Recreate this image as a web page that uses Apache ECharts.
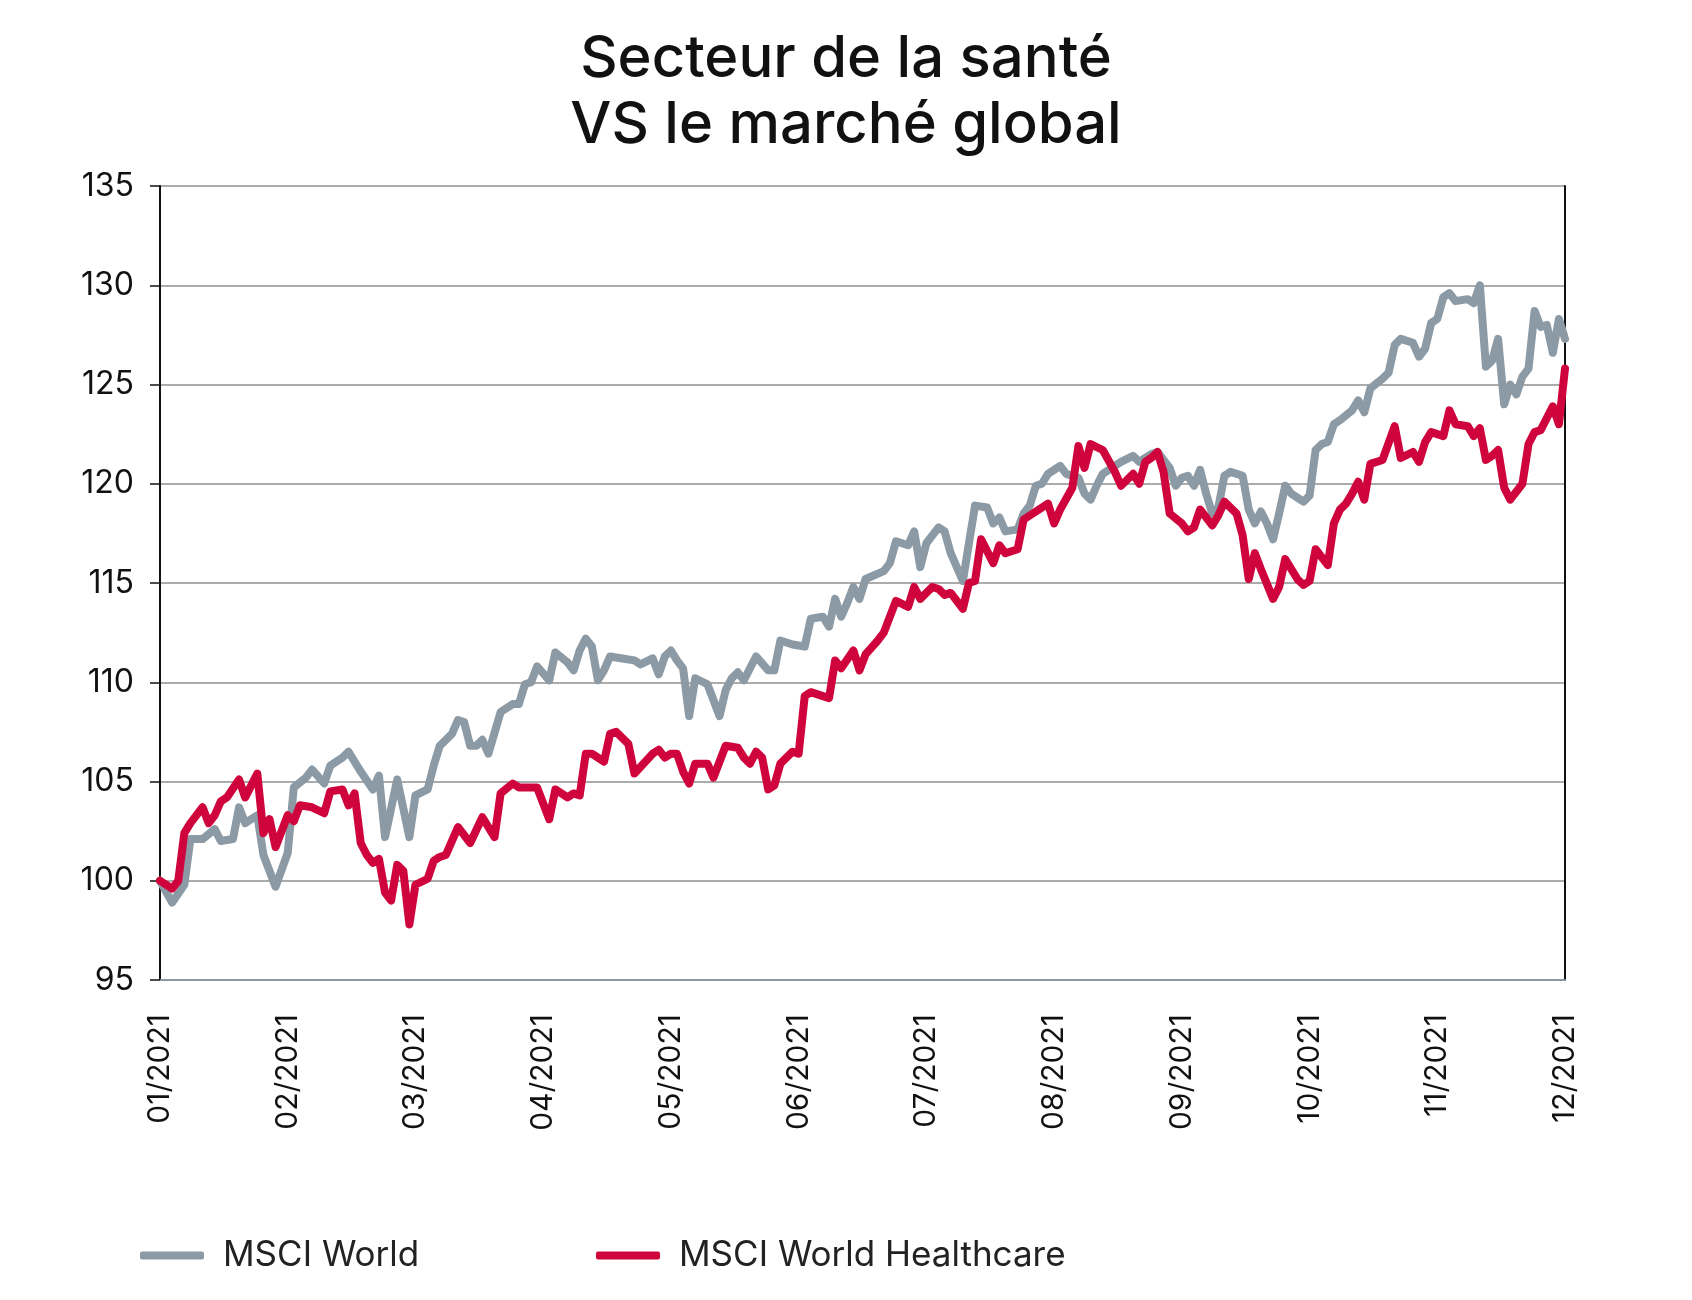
<!DOCTYPE html>
<html>
<head>
<meta charset="utf-8">
<script src="https://cdn.jsdelivr.net/npm/echarts@6/dist/echarts.min.js"></script>
<style>
  html, body { margin: 0; padding: 0; background: #fff; }
  #chart { width: 1692px; height: 1300px; }
</style>
</head>
<body>
<div id="chart"></div>
<script>
// Secteur de la santé VS le marché global (base 100, 2021)
// x = jour de bourse depuis début janvier (21 par mois)
var daysPerMonth = 21;
var months = ['01/2021', '02/2021', '03/2021', '04/2021', '05/2021', '06/2021',
              '07/2021', '08/2021', '09/2021', '10/2021', '11/2021', '12/2021'];
var yTicks = [95, 100, 105, 110, 115, 120, 125, 130, 135];

var msciWorld = [
  [0,100.0],[2,98.9],[4,99.8],[5,102.1],[7,102.1],[9,102.6],[10,102.0],[12,102.1],[13,103.7],[14,102.9],
  [16,103.3],[17,101.3],[19,99.7],[21,101.4],[22,104.7],[24,105.2],[25,105.6],[27,104.9],[28,105.8],[30,106.2],
  [31,106.5],[33,105.5],[35,104.6],[36,105.3],[37,102.2],[39,105.1],[41,102.2],[42,104.3],[44,104.6],[45,105.8],
  [46,106.8],[48,107.4],[49,108.1],[50,108.0],[51,106.8],[52,106.8],[53,107.1],[54,106.4],[56,108.5],[58,108.9],
  [59,108.9],[60,109.9],[61,110.0],[62,110.8],[64,110.1],[65,111.5],[67,111.0],[68,110.6],[69,111.6],[70,112.2],
  [71,111.8],[72,110.1],[73,110.6],[74,111.3],[76,111.2],[78,111.1],[79,110.9],[81,111.2],[82,110.4],[83,111.3],
  [84,111.6],[85,111.1],[86,110.7],[87,108.3],[88,110.2],[90,109.9],[92,108.3],[93,109.6],[94,110.2],[95,110.5],
  [96,110.1],[98,111.3],[100,110.6],[101,110.6],[102,112.1],[104,111.9],[106,111.8],[107,113.2],[109,113.3],[110,112.8],
  [111,114.2],[112,113.3],[113,114.0],[114,114.8],[115,114.2],[116,115.2],[119,115.6],[120,116.0],[121,117.1],[123,116.9],
  [124,117.6],[125,115.8],[126,117.0],[128,117.8],[129,117.6],[130,116.5],[132,115.1],[133,117.0],[134,118.9],[136,118.8],
  [137,118.0],[138,118.3],[139,117.6],[141,117.7],[142,118.5],[143,118.9],[144,119.9],[145,120.0],[146,120.5],[148,120.9],
  [149,120.5],[151,120.3],[152,119.5],[153,119.2],[154,119.9],[155,120.5],[157,120.9],[158,121.1],[160,121.4],[161,121.1],
  [162,121.3],[163,121.5],[164,121.6],[166,120.8],[167,119.9],[168,120.3],[169,120.4],[170,119.9],[171,120.7],[172,119.5],
  [173,118.5],[174,118.8],[175,120.4],[176,120.6],[178,120.4],[179,118.7],[180,118.0],[181,118.6],[182,118.0],[183,117.2],
  [184,118.5],[185,119.9],[186,119.5],[188,119.1],[189,119.4],[190,121.7],[191,122.0],[192,122.1],[193,123.0],[194,123.2],
  [196,123.7],[197,124.2],[198,123.6],[199,124.8],[201,125.3],[202,125.6],[203,127.0],[204,127.3],[206,127.1],[207,126.4],
  [208,126.8],[209,128.1],[210,128.3],[211,129.4],[212,129.6],[213,129.2],[215,129.3],[216,129.1],[217,130.0],[218,125.9],
  [219,126.2],[220,127.3],[221,124.0],[222,125.0],[223,124.5],[224,125.4],[225,125.8],[226,128.7],[227,127.9],[228,128.0],
  [229,126.6],[230,128.3],[231,127.3]
];

var msciHealthcare = [
  [0,100.0],[2,99.6],[3,100.0],[4,102.4],[5,102.9],[7,103.7],[8,102.9],[9,103.3],[10,104.0],[11,104.2],
  [13,105.1],[14,104.2],[16,105.4],[17,102.4],[18,103.1],[19,101.7],[21,103.3],[22,103.0],[23,103.8],[25,103.7],
  [27,103.4],[28,104.5],[30,104.6],[31,103.8],[32,104.4],[33,101.9],[34,101.3],[35,100.9],[36,101.1],[37,99.4],
  [38,99.0],[39,100.8],[40,100.5],[41,97.8],[42,99.8],[44,100.1],[45,101.0],[46,101.2],[47,101.3],[49,102.7],
  [51,101.9],[53,103.2],[55,102.2],[56,104.4],[58,104.9],[59,104.7],[61,104.7],[62,104.7],[64,103.1],[65,104.6],
  [67,104.2],[68,104.4],[69,104.3],[70,106.4],[71,106.4],[73,106.0],[74,107.4],[75,107.5],[77,106.9],[78,105.4],
  [81,106.4],[82,106.6],[83,106.2],[84,106.4],[85,106.4],[86,105.5],[87,104.9],[88,105.9],[90,105.9],[91,105.2],
  [93,106.8],[95,106.7],[96,106.2],[97,105.9],[98,106.5],[99,106.2],[100,104.6],[101,104.8],[102,105.9],[104,106.5],
  [105,106.4],[106,109.3],[107,109.5],[110,109.2],[111,111.1],[112,110.7],[114,111.6],[115,110.6],[116,111.4],[118,112.1],
  [119,112.5],[121,114.1],[123,113.8],[124,114.8],[125,114.2],[127,114.8],[128,114.7],[129,114.4],[130,114.5],[132,113.7],
  [133,115.0],[134,115.1],[135,117.2],[137,116.0],[138,116.9],[139,116.5],[141,116.7],[142,118.2],[143,118.4],[146,119.0],
  [147,118.0],[148,118.7],[150,119.8],[151,121.9],[152,120.8],[153,122.0],[155,121.7],[157,120.6],[158,119.9],[160,120.5],
  [161,120.0],[162,121.1],[163,121.3],[164,121.6],[165,120.6],[166,118.5],[168,118.0],[169,117.6],[170,117.8],[171,118.7],
  [173,117.9],[174,118.4],[175,119.1],[177,118.5],[178,117.4],[179,115.2],[180,116.5],[181,115.7],[183,114.2],[184,114.8],
  [185,116.2],[186,115.7],[187,115.2],[188,114.9],[189,115.1],[190,116.7],[192,115.9],[193,118.0],[194,118.7],[195,119.0],
  [196,119.5],[197,120.1],[198,119.2],[199,121.0],[201,121.2],[203,122.9],[204,121.3],[206,121.6],[207,121.1],[208,122.1],
  [209,122.6],[211,122.4],[212,123.7],[213,123.0],[215,122.9],[216,122.4],[217,122.8],[218,121.2],[219,121.4],[220,121.7],
  [221,119.8],[222,119.2],[224,120.0],[225,122.0],[226,122.6],[227,122.7],[229,123.9],[230,123.0],[231,125.8]
];

var GREY = '#8c9aa5';
var RED = '#d0043c';
var FONT = 'Inter, "Noto Sans", sans-serif';

var myChart = echarts.init(document.getElementById('chart'));

var option = {
    animation: false,
    backgroundColor: '#fff',
    textStyle: { fontFamily: FONT },
    title: {
        text: 'Secteur de la santé\nVS le marché global',
        left: 'center',
        top: 22,
        textStyle: {
            fontFamily: FONT,
            fontSize: 58,
            fontWeight: 500,
            lineHeight: 66,
            color: '#111'
        }
    },
    legend: [
        {
            data: ['MSCI World'],
            left: 135,
            top: 1233,
            icon: 'roundRect',
            itemWidth: 64,
            itemHeight: 8,
            textStyle: { fontFamily: FONT, fontSize: 35, color: '#222', padding: [0, 0, 0, 14] }
        },
        {
            data: ['MSCI World Healthcare'],
            left: 591,
            top: 1233,
            icon: 'roundRect',
            itemWidth: 64,
            itemHeight: 8,
            textStyle: { fontFamily: FONT, fontSize: 35, color: '#222', padding: [0, 0, 0, 14] }
        }
    ],
    grid: { left: 160, right: 127, top: 186, bottom: 320 },
    xAxis: {
        type: 'value',
        min: 0,
        max: (months.length - 1) * daysPerMonth,
        interval: daysPerMonth,
        axisLine: { show: true, lineStyle: { color: '#8a97a1', width: 2 } },
        axisTick: { show: false },
        splitLine: { show: false },
        axisLabel: {
            rotate: 90,
            margin: 34,
            fontSize: 30,
            color: '#111',
            fontFamily: FONT,
            formatter: function (v) { return months[Math.round(v / daysPerMonth)]; }
        }
    },
    yAxis: [
        {
            type: 'value',
            min: yTicks[0],
            max: yTicks[yTicks.length - 1],
            interval: 5,
            axisLine: { show: true, lineStyle: { color: '#111', width: 2 } },
            axisTick: { show: true, inside: false, length: 10, lineStyle: { color: '#111', width: 1.5 } },
            splitLine: { show: true, lineStyle: { color: '#8f8f8f', width: 1.5 } },
            axisLabel: { margin: 26, fontSize: 32, color: '#111', fontFamily: FONT }
        },
        {
            type: 'value',
            position: 'right',
            min: yTicks[0],
            max: yTicks[yTicks.length - 1],
            interval: 5,
            axisLine: { show: true, lineStyle: { color: '#111', width: 2 } },
            axisTick: { show: false },
            splitLine: { show: false },
            axisLabel: { show: false }
        }
    ],
    series: [
        {
            name: 'MSCI World',
            type: 'line',
            data: msciWorld,
            showSymbol: false,
            symbol: 'none',
            color: GREY,
            lineStyle: { color: GREY, width: 8, join: 'round', cap: 'round' }
        },
        {
            name: 'MSCI World Healthcare',
            type: 'line',
            data: msciHealthcare,
            showSymbol: false,
            symbol: 'none',
            color: RED,
            lineStyle: { color: RED, width: 8, join: 'round', cap: 'round' }
        }
    ]
};

myChart.setOption(option);
</script>
</body>
</html>
